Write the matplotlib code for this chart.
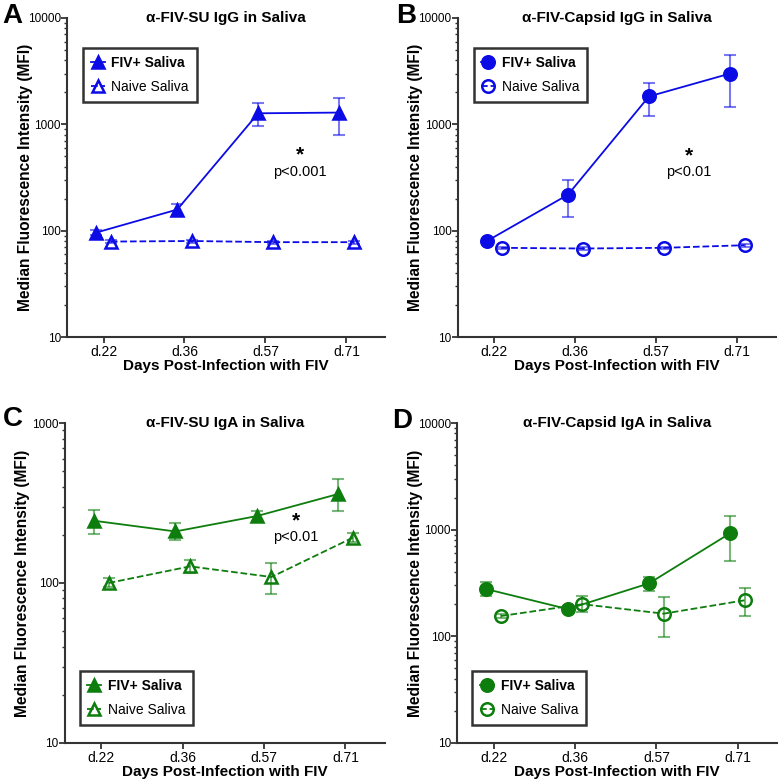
import numpy as np
import matplotlib.pyplot as plt
from matplotlib.ticker import LogLocator, NullFormatter

plt.rcParams['font.family'] = ['Liberation Sans', 'DejaVu Sans']

days = ["d.22", "d.36", "d.57", "d.71"]

# panel A: anti-FIV-SU IgG
a_pos = [96, 158, 1270, 1290]
a_pos_lo = [91, 140, 960, 800]
a_pos_hi = [101, 180, 1600, 1760]
a_neg = [79, 80, 78, 78]
a_neg_lo = [76, 77, 75, 75]
a_neg_hi = [82, 82, 80, 80]

# panel B: anti-FIV-Capsid IgG
b_pos = [80, 218, 1830, 3000]
b_pos_lo = [77, 135, 1200, 1440]
b_pos_hi = [83, 300, 2450, 4500]
b_neg = [69, 68, 69, 73]
b_neg_lo = [67, 66, 67, 71]
b_neg_hi = [71, 70, 71, 75]

# panel C: anti-FIV-SU IgA
c_pos = [245, 210, 262, 360]
c_pos_lo = [202, 186, 245, 282]
c_pos_hi = [286, 237, 282, 447]
c_neg = [100, 127, 109, 192]
c_neg_lo = [95, 116, 85, 180]
c_neg_hi = [107, 139, 134, 205]

# panel D: anti-FIV-Capsid IgA
d_pos = [277, 180, 314, 930]
d_pos_lo = [238, 170, 265, 510]
d_pos_hi = [323, 192, 360, 1350]
d_neg = [155, 200, 163, 218]
d_neg_lo = [148, 168, 98, 155]
d_neg_hi = [162, 237, 232, 283]

blue = "#0b0be6"
green = "#0d7d0d"

panels = [
    ("A", u"\u03b1-FIV-SU IgG in Saliva", "^", blue, (a_pos, a_pos_lo, a_pos_hi), (a_neg, a_neg_lo, a_neg_hi),
     (1e1, 1e4), "upper left", (0.05, 0.905), (2.43, "p<0.001", 360)),
    ("B", u"\u03b1-FIV-Capsid IgG in Saliva", "o", blue, (b_pos, b_pos_lo, b_pos_hi), (b_neg, b_neg_lo, b_neg_hi),
     (1e1, 1e4), "upper left", (0.05, 0.905), (2.4, "p<0.01", 355)),
    ("C", u"\u03b1-FIV-SU IgA in Saliva", "^", green, (c_pos, c_pos_lo, c_pos_hi), (c_neg, c_neg_lo, c_neg_hi),
     (1e1, 1e3), "lower left", (0.047, 0.056), (2.39, "p<0.01", 194)),
    ("D", u"\u03b1-FIV-Capsid IgA in Saliva", "o", green, (d_pos, d_pos_lo, d_pos_hi), (d_neg, d_neg_lo, d_neg_hi),
     (1e1, 1e4), "lower left", (0.047, 0.056), None),
]

rects = [
    [0.086, 0.569, 0.408, 0.408],
    [0.587, 0.569, 0.408, 0.408],
    [0.083, 0.050, 0.410, 0.409],
    [0.586, 0.050, 0.410, 0.409],
]
letter_xy = [(0.003, 0.9795), (0.508, 0.9795), (0.004, 0.464), (0.503, 0.462)]

fig = plt.figure(figsize=(7.8, 7.82), dpi=100)
x = np.arange(len(days))
off = 0.09

for rect, lxy, (letter, title, mk, col, pos, neg, ylim, loc, anchor, note) in zip(rects, letter_xy, panels):
    ax = fig.add_axes(rect)
    ax.set_yscale("log")
    ax.set_ylim(*ylim)
    ax.set_xlim(-0.45, 3.48)

    for vals, style, filled in [(pos, "-", True), (neg, "--", False)]:
        v, lo, hi = [np.array(s, dtype=float) for s in vals]
        xx = x - off if filled else x + off
        ax.errorbar(xx, v, yerr=[v - lo, hi - v], fmt="none", ecolor=col, alpha=0.55,
                    elinewidth=1.5, capsize=4.5, capthick=1.5, zorder=2)
        ax.plot(xx, v, linestyle=style, color=col, lw=1.3, marker=mk, markersize=9,
                markerfacecolor=col if filled else "none", markeredgecolor=col,
                markeredgewidth=1.8, zorder=3,
                label="FIV+ Saliva" if filled else "Naive Saliva")

    for s in ["top", "right"]:
        ax.spines[s].set_visible(False)
    for s in ["left", "bottom"]:
        ax.spines[s].set_linewidth(1.5)
        ax.spines[s].set_color("#333333")

    ax.set_xticks(x)
    ax.set_xticklabels(days, fontsize=10)
    ax.yaxis.set_major_locator(LogLocator(base=10))
    ax.yaxis.set_minor_locator(LogLocator(base=10, subs=np.arange(2, 10)))
    ax.yaxis.set_minor_formatter(NullFormatter())
    ax.yaxis.set_major_formatter(plt.FuncFormatter(lambda v, p: "%d" % round(v)))
    ax.tick_params(axis="y", which="major", length=4, width=1.3, labelsize=8.5, pad=0.5, colors="#333333",
                   labelcolor="black")
    ax.tick_params(axis="y", which="minor", length=2.5, width=1.0, colors="#333333")
    ax.tick_params(axis="x", length=4, width=1.3, pad=1.5, colors="#333333", labelcolor="black")

    ax.set_ylabel("Median Fluorescence Intensity (MFI)", fontsize=11.2, fontweight="bold")
    ax.yaxis.set_label_coords(-0.108, 0.5)
    ax.set_xlabel("Days Post-Infection with FIV", fontsize=11, fontweight="bold", labelpad=0)
    ax.text(0.5, 1.0, title, transform=ax.transAxes, ha="center", va="center",
            fontsize=11, fontweight="bold")
    fig.text(lxy[0], lxy[1], letter, ha="left", va="center", fontsize=20, fontweight="bold")

    leg = ax.legend(loc=loc, bbox_to_anchor=anchor, fontsize=10, frameon=True, fancybox=False,
                    handlelength=1.0, handletextpad=0.5, borderpad=0.55, labelspacing=0.75,
                    borderaxespad=0)
    leg.get_frame().set_edgecolor("black")
    leg.get_frame().set_linewidth(1.8)
    leg.get_texts()[0].set_fontweight("bold")

    if note is not None:
        nx, ntext, ny = note
        ax.annotate(ntext, (nx, ny), ha="center", va="center", fontsize=10.5)
        ax.annotate("*", (nx, ny), xytext=(0, 5), textcoords="offset points",
                    ha="center", va="bottom", fontsize=15, fontweight="bold")

fig.savefig("out.png", dpi=100)
